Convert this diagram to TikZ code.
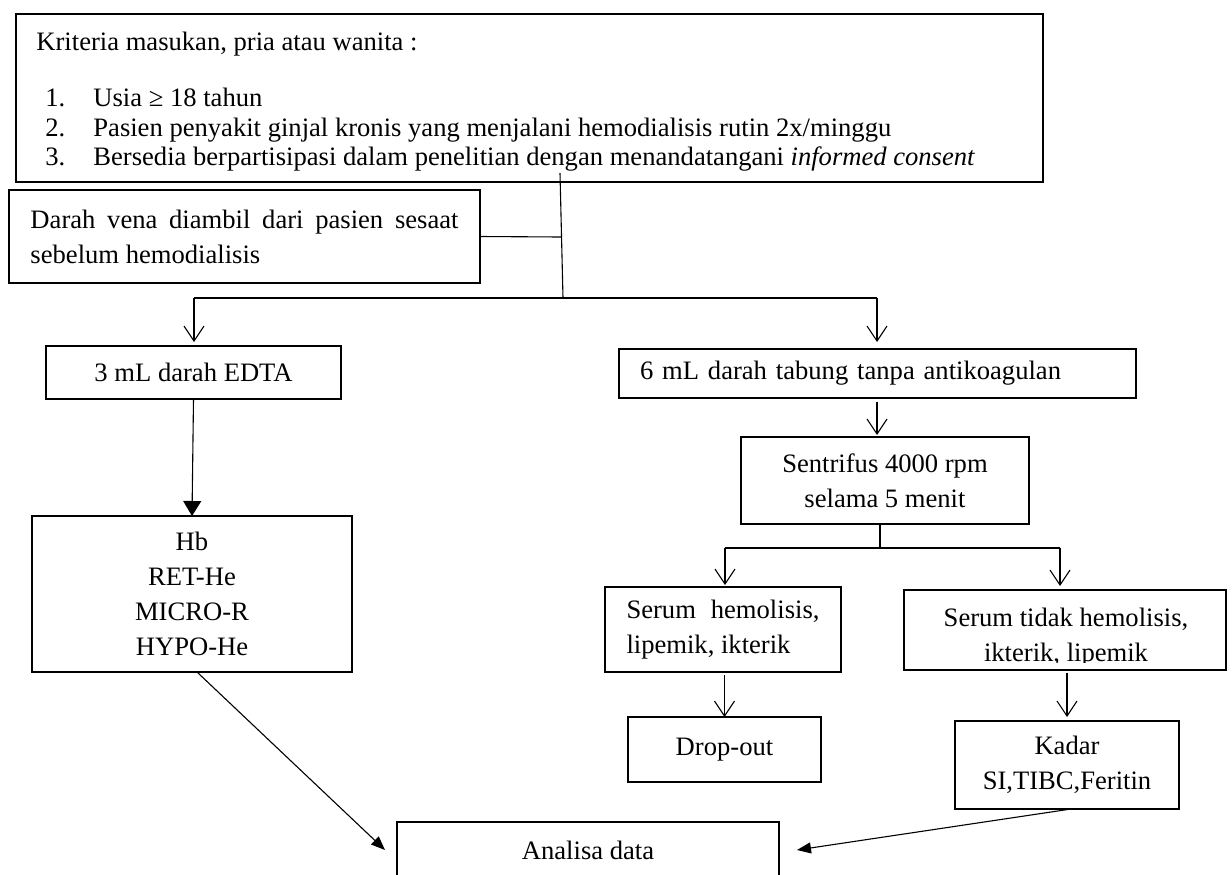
\documentclass[tikz,border=0pt]{standalone}
\usepackage{fontspec}
\setmainfont{Liberation Serif}
\usetikzlibrary{arrows.meta,calc}
\begin{document}
\begin{tikzpicture}[x=0.5pt,y=-0.5pt,
  every node/.style={font=\fontsize{13.3}{17.5}\selectfont},
  box/.style={draw, line width=0.9pt, inner sep=0pt, outer sep=0pt},
  txt/.style={inner sep=0pt},
  conn/.style={line width=0.55pt},
  openarrow/.style={conn, -{Straight Barb[length=7.5pt,width=10pt]}},
  solidarrow/.style={conn, -{Triangle[length=7.5pt,width=9pt]}},
  slimarrow/.style={conn, -{Triangle[length=7pt,width=5.5pt]}},
]
\useasboundingbox (0,0) rectangle (1232,874);
\clip (0,0) rectangle (1232,874);

% top criteria box
\node[box, minimum width=513.5pt, minimum height=84pt] (crit) at (529.5,98) {};
\node[txt, anchor=base west] (k0) at (36,50) {Kriteria masukan, pria atau wanita :};
\node[txt, anchor=base west] (n1) at (45,106) {1.};
\node[txt, anchor=base west] (k1) at (93,106) {Usia ≥ 18 tahun};
\node[txt, anchor=base west] (n2) at (45,136) {2.};
\node[txt, anchor=base west] (k2) at (93,136) {Pasien penyakit ginjal kronis yang menjalani hemodialisis rutin 2x/minggu};
\node[txt, anchor=base west] (n3) at (45,165) {3.};
\node[txt, anchor=base west] (k3) at (93,165) {Bersedia berpartisipasi dalam penelitian dengan menandatangani \textit{informed consent}};

% darah box
\node[box, minimum width=235.5pt, minimum height=46.5pt, align=left] (darah) at (244.5,236.5)
  {\makebox[214pt][s]{Darah vena diambil dari pasien sesaat}\\sebelum hemodialisis};

% left branch
\node[box, minimum width=147.5pt, minimum height=26.5pt] (edta) at (193.5,372.5) {3 mL darah EDTA};
\node[box, minimum width=160pt, minimum height=78pt, align=center] (hb) at (192,594) {Hb\\RET-He\\MICRO-R\\HYPO-He};

% right branch
\node[box, minimum width=258.5pt, minimum height=24.5pt, text width=237.5pt, inner xsep=10.5pt, inner ysep=0pt, align=left] (six) at (877.5,373.5) {6 mL darah tabung tanpa antikoagulan};
\node[box, minimum width=144pt, minimum height=43.5pt, align=center] (sent) at (885,480.5) {Sentrifus 4000 rpm\\selama 5 menit};
\node[box, minimum width=118pt, minimum height=42.5pt, align=left] (sh) at (723,629.5)
  {\makebox[96.5pt][s]{Serum hemolisis,}\\lipemik, ikterik};
\node[box, minimum width=161pt, minimum height=40pt] (st) at (1065,630) {};
\begin{scope}
  \clip (904,590) rectangle (1226,662);
  \node[txt, align=center] (sttxt) at (1066,638) {Serum tidak hemolisis,\\ikterik, lipemik};
\end{scope}
\node[box, minimum width=96.5pt, minimum height=32.5pt] (drop) at (724.5,749.5) {Drop-out};
\node[box, minimum width=112pt, minimum height=44pt, align=center] (kadar) at (1067,765) {Kadar\\SI,TIBC,Feritin};
\node[box, minimum width=191pt, minimum height=28pt] (ana) at (588,850) {Analisa data};

% connectors
\coordinate (vtop) at (560,173);
\coordinate (vbot) at (563,298);
\coordinate (vmid) at (561.5,237);
\draw[conn] (vtop) -- (vbot);
\draw[conn] (darah.east) -- (vmid);
\coordinate (bl) at (194,298);
\coordinate (br) at (877,298);
\draw[conn] (bl) -- (br);
\draw[openarrow, shorten >=2pt] (bl) -- (bl |- edta.north);
\draw[openarrow, shorten >=3.5pt] (br) -- (br |- six.north);
\draw[openarrow, shorten <=2pt, shorten >=1pt] (br |- six.south) -- (br |- sent.north);
\coordinate (bc) at (880,548);
\draw[conn] (bc |- sent.south) -- (bc);
\coordinate (b2l) at (725,548);
\coordinate (b2r) at (1060,548);
\draw[conn] (b2l) -- (b2r);
\draw[openarrow, shorten >=1pt] (b2l) -- (b2l |- sh.north);
\draw[openarrow, shorten >=2pt] (b2r) -- (b2r |- st.north);
\draw[openarrow, shorten <=1.5pt] (drop.north |- sh.south) -- (drop.north);
\draw[openarrow, shorten <=1.5pt, shorten >=2pt] (kadar.north |- st.south) -- (kadar.north);
\draw[solidarrow] (edta.south) -- (hb.north);
\coordinate (anL) at (385,850);
\coordinate (anR) at (797,850);
\draw[slimarrow] ([xshift=2.5pt]hb.south) -- (anL);
\draw[slimarrow] ([xshift=2pt]kadar.south) -- (anR);
\end{tikzpicture}
\end{document}
